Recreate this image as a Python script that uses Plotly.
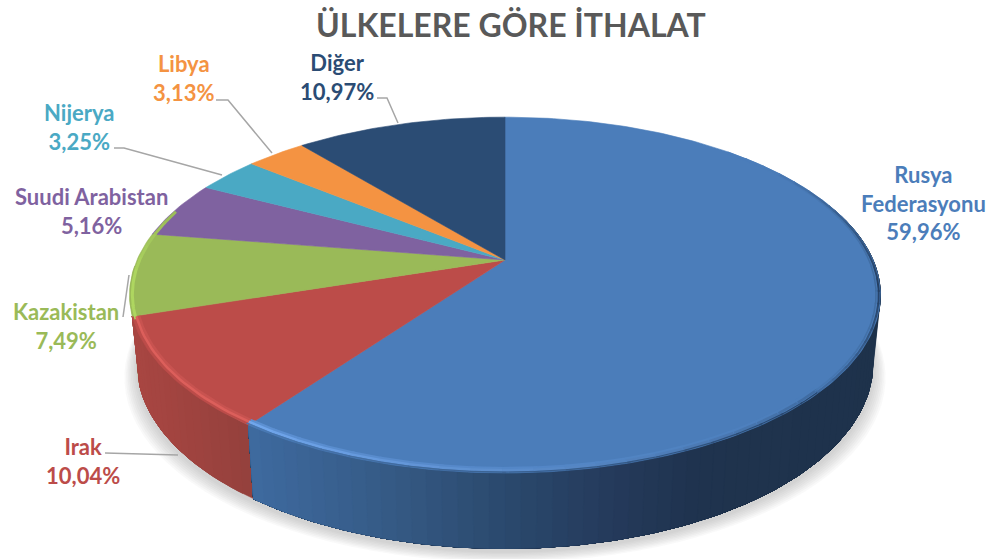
import math
import plotly.graph_objects as go

# ---- data (clockwise from 12 o'clock) ----
categories = ["Rusya<br>Federasyonu", "Irak", "Kazakistan", "Suudi Arabistan", "Nijerya", "Libya", "Diğer"]
values = [59.96, 10.04, 7.49, 5.16, 3.25, 3.13, 10.97]
colors = ["#4b7dba", "#bc4c49", "#9aba58", "#7f62a0", "#4aa9c4", "#f49342", "#2b4c74"]
label_x = [923, 83, 66, 91, 79, 183, 337]
label_y = [203, 461, 326, 211, 127, 78, 77]
title_text = "ÜLKELERE GÖRE İTHALAT"

# ---- perspective of the pie's plane ----
CX, CY, A, B, K = 505.0, 260.0, 368.0, 171.0, 0.197
FONT = "Lato"


def pt(deg, r=1.0, drop=False):
    t = math.radians(deg)
    u, v = r * math.sin(t), r * math.cos(t)
    w = 1 + K * v
    x = CX + A * u / w
    y = CY - B * v / w
    if drop:
        x = CX + (x - CX) * 0.98
        y = y + 67 - 8.5 * v
    return x, y


def arc(a0, a1, step=1.0, r=1.0, drop=False):
    n = max(2, int(abs(a1 - a0) / step) + 1)
    return [pt(a0 + (a1 - a0) * i / (n - 1), r, drop) for i in range(n)]


def rgb(h):
    h = h.lstrip("#")
    return [int(h[i:i + 2], 16) for i in (0, 2, 4)]


def mix(c1, c2, t):
    t = max(0.0, min(1.0, t))
    a, b = rgb(c1), rgb(c2)
    return "#%02x%02x%02x" % tuple(round(a[i] + (b[i] - a[i]) * t) for i in range(3))


def poly(fig, pts, color, lw=0.6):
    fig.add_trace(go.Scatter(x=[p[0] for p in pts] + [pts[0][0]], y=[p[1] for p in pts] + [pts[0][1]],
                             mode="lines", fill="toself", fillcolor=color,
                             line=dict(width=lw, color=color), hoverinfo="skip", showlegend=False))


def stroke(fig, pts, color, width):
    fig.add_trace(go.Scatter(x=[p[0] for p in pts], y=[p[1] for p in pts], mode="lines",
                             line=dict(width=width, color=color), hoverinfo="skip", showlegend=False))


# slice angle limits
limits, acc = [], 0.0
total = sum(values)
for v in values:
    limits.append((acc / total * 360, (acc + v) / total * 360))
    acc += v

fig = go.Figure()

# soft shadow under the wall
for i in range(8):
    sp = (8 - i) * 1.6
    pts = []
    for x, y in arc(70, 290, 3, drop=True):
        pts.append((CX + (x - CX) * (1 + sp / 370), y + sp * 0.85 + 3))
    poly(fig, pts, "rgba(120,120,120,0.045)", 0)

# side walls: gradient strips
stops_blue = [(250, "#3e6a9f"), (380, "#365b87"), (500, "#2b4a6e"), (620, "#24395a"), (700, "#1f334e"), (890, "#1e324b")]


def blue_at(x):
    for (x0, c0), (x1, c1) in zip(stops_blue, stops_blue[1:]):
        if x <= x1:
            return mix(c0, c1, (x - x0) / (x1 - x0))
    return stops_blue[-1][1]


def strips(a0, a1, step, colf):
    """Painter's gradient: every band reaches to a1, so no seam can show between bands."""
    a = a0
    while a < a1 - 1e-6:
        poly(fig, arc(a, a1, 1) + arc(a1, a, 1, drop=True), colf(pt(a + step / 2)[0]), 0.4)
        a += step


strips(limits[2][0], limits[2][0] + 16, 16, lambda x: "#8aa84e")
strips(limits[1][0], limits[1][1], 2, lambda x: mix("#93403c", "#a84642", (255 - x) / 120))
strips(70, limits[0][1], 2, blue_at)

# top faces
for (a0, a1), col in zip(limits, colors):
    poly(fig, [(CX, CY)] + arc(a0, a1, 1), col)

# bevel highlights and darkened outer edge
a0, a1 = limits[2]
for a in range(int(a0), 286, 4):
    stroke(fig, arc(a, a + 4.5, 1, 0.993), mix("#aed660", colors[2], (a - 262) / 24), 3)
a0, a1 = limits[1]
stroke(fig, arc(a0 + 0.2, a1 - 0.2, 1, 0.985), "#c85350", 4)
stroke(fig, arc(a0 + 0.2, a1 - 0.2, 1, 0.990), "#dc5f5b", 2.5)
a = limits[0][1]
while a > 45:
    b = a - 4
    if a > 135:
        f = (216 - a) / 80
        stroke(fig, arc(b, a + 0.5, 1, 0.985), mix("#5c90d2", colors[0], f), 4)
        stroke(fig, arc(b, a + 0.5, 1, 0.990), mix("#70a6ec", mix(colors[0], "#2f527e", 0.4), f), 2.5)
        stroke(fig, arc(b, a + 0.5, 1, 0.997), mix("#4a78b0", "#27456b", f), 1.2)
    else:
        t = 1 - abs(a - 100) / 45
        stroke(fig, arc(b, a + 0.5, 1, 0.989), mix(colors[0], "#3f6b9f", t), 1.5)
        stroke(fig, arc(b, a + 0.5, 1, 0.996), mix(colors[0], "#243f62", t), 2)
    a = b

# leader lines
leaders = [
    ([377, 387, 398], [98, 98, 123]),
    ([216, 228, 272], [100, 100, 153]),
    ([114, 124, 222], [148, 148, 175]),
    ([123, 129], [317, 275]),
    ([105, 178], [453, 455]),
]
for xs, ys in leaders:
    fig.add_trace(go.Scatter(x=xs, y=ys, mode="lines", line=dict(width=1.5, color="#a6a6a6"),
                             hoverinfo="skip", showlegend=False))

# labels
for name, v, col, x, y in zip(categories, values, colors, label_x, label_y):
    pct = f"{v:.2f}".replace(".", ",") + "%"
    fig.add_annotation(x=x, y=y, xref="x", yref="y", text=f"<b>{name}<br>{pct}</b>", showarrow=False,
                       font=dict(family=FONT, size=22, color=col), align="center",
                       xanchor="center", yanchor="middle")

fig.update_layout(
    width=989, height=559, margin=dict(l=0, r=0, t=0, b=0), showlegend=False,
    paper_bgcolor="white", plot_bgcolor="white",
    xaxis=dict(range=[0, 989], visible=False, fixedrange=True),
    yaxis=dict(range=[559, 0], visible=False, fixedrange=True),
    annotations=list(fig.layout.annotations) + [
        dict(x=511, y=24, xref="x", yref="y", text=f"<b>{title_text}</b>", showarrow=False,
             font=dict(family=FONT, size=32, color="#595959"), xanchor="center", yanchor="middle")
    ],
)
fig.write_html("out.html", config={"displayModeBar": False},
               post_script="document.body.style.margin='0';document.body.style.overflow='hidden';")
